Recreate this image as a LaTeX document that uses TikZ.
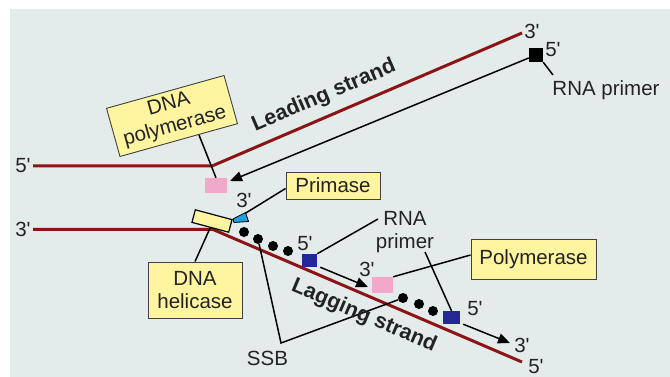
\documentclass[tikz,border=0pt]{standalone}
\usepackage{fontspec}
\setmainfont{Liberation Sans}
\usetikzlibrary{arrows.meta,calc}
\definecolor{bgc}{RGB}{227,236,234}
\definecolor{dred}{RGB}{140,20,22}
\definecolor{boxy}{RGB}{255,244,160}
\definecolor{pinkc}{RGB}{242,168,200}
\definecolor{navyc}{RGB}{35,40,150}
\definecolor{cyanc}{RGB}{30,160,225}
\definecolor{txt}{RGB}{35,35,35}
\newcommand{\pq}{\textquotesingle}
\begin{document}
\begin{tikzpicture}[x=1pt,y=-1pt,
  font=\fontsize{20.5}{22.5}\selectfont,
  strand/.style={dred, line width=3pt},
  conn/.style={black, line width=1.5pt},
  arr/.style={conn, -{Triangle[length=12pt,width=10pt]}},
  ybox/.style={draw=black!75, line width=0.9pt, fill=boxy, align=center, inner sep=0pt, text=txt},
  lbl/.style={inner sep=0pt, text=txt},
  boldlbl/.style={inner sep=0pt, text=txt, font=\fontsize{21.5}{23}\selectfont\bfseries},
  sqr/.style={inner sep=0pt},
  ssbdot/.style={circle, fill=black, inner sep=0pt, minimum size=10pt}]
\path[use as bounding box] (0,0) rectangle (670,377);
\fill[bgc] (10,9) rectangle (670,377);

% ---------- leading strand ----------
\coordinate (L5) at (33,166);
\coordinate (LF) at (212,166);
\coordinate (L3) at (522,33);
\draw[strand] (L5) -- (LF) -- (L3);
\node[lbl] (tL5) at (23,166) {5\pq};
\node[lbl] (tL3) at (532,31) {3\pq};

\node[sqr, fill=black, minimum size=14pt] (rnaA) at (536,55) {};
\coordinate (tipA) at (230,181);
\draw[arr] (rnaA) -- (tipA);
\node[lbl] (tA5) at (553,50) {5\pq};
\coordinate (rkA) at (553,75);
\draw[conn] (rnaA.south east) -- (rkA);
\node[lbl] (rnaAl) at (606,90) {RNA primer};

\node[ybox, rotate=15.6, minimum width=122pt, minimum height=50pt] (dnapol) at (172,116) {DNA\\polymerase};
\node[sqr, fill=pinkc, minimum width=22pt, minimum height=15pt] (pol1) at (216,185.5) {};
\draw[conn] ($(dnapol.south west)!0.67!(dnapol.south east)$) -- (pol1.north);

\node[boldlbl, rotate=23.2] (lead) at (324,96) {Leading strand};

% ---------- lagging strand ----------
\coordinate (R3) at (33,229.5);
\coordinate (RF) at (213,229.5);
\coordinate (R5) at (522,362);
\draw[strand] (R3) -- (RF) -- (R5);
\node[lbl] (tR3) at (23,229) {3\pq};
\node[lbl] (tR5) at (536,367) {5\pq};

\node[draw=black, line width=1.2pt, fill=boxy, rotate=-15, minimum width=38pt, minimum height=13pt, inner sep=0pt] (heli) at (212,221) {};
\filldraw[fill=cyanc, draw=black, line width=0.8pt] (233,219) -- (245.5,212.5) -- (248.5,221.5) -- (234,222.5) -- cycle;
\coordinate (primC) at (245,213.5);
\node[lbl] (tP3) at (244,200) {3\pq};

\node[ybox, minimum width=94pt, minimum height=27pt] (prim) at (333,185.5) {Primase};
\draw[conn] ([yshift=-3pt]prim.west) -- (primC);

\node[ybox, minimum width=94pt, minimum height=56pt] (hbox) at (195,290) {DNA\\helicase};
\draw[conn] (hbox.north) -- (heli.south);

% SSB dots
\node[ssbdot] (d1) at (244,232) {};
\node[ssbdot] (d2) at (258,239) {};
\node[ssbdot] (d3) at (273,246) {};
\node[ssbdot] (d4) at (288,251) {};
\node[ssbdot] (d5) at (403,298) {};
\node[ssbdot] (d6) at (419,304) {};
\node[ssbdot] (d7) at (433,311) {};
\node[lbl] (ssb) at (267.5,358.5) {SSB};
\coordinate (sk) at (281,343);
\draw[conn] (d2) -- (sk) -- (d5);

% Okazaki fragment 1
\node[sqr, fill=navyc, minimum width=15pt, minimum height=13pt] (bl1) at (309.5,260.5) {};
\node[lbl] (tB5) at (305,244) {5\pq};
\coordinate (tipB) at (368,287);
\draw[arr] ([xshift=3pt]bl1.south east) -- (tipB);
\node[sqr, fill=pinkc, minimum width=21pt, minimum height=16pt] (pol2) at (382.5,285) {};
\node[lbl] (tB3) at (367,269) {3\pq};

\node[ybox, minimum width=125pt, minimum height=40pt] (poly) at (533.5,259) {Polymerase};
\draw[conn] ([yshift=4pt]poly.west) -- (pol2.north east);

% Okazaki fragment 2
\node[sqr, fill=navyc, minimum width=17pt, minimum height=13pt] (bl2) at (451.5,317.5) {};
\node[lbl] (tC5) at (475,308.5) {5\pq};
\coordinate (tipC) at (510,343);
\draw[arr] ([xshift=3pt]bl2.south east) -- (tipC);
\node[lbl] (tC3) at (522,345) {3\pq};

\node[lbl, align=center] (rnaB) at (405,232) {RNA\\primer};
\coordinate (rk1) at (378,219);
\coordinate (rk2) at (425,252);
\draw[conn] (rk1) -- (bl1.north east);
\draw[conn] (rk2) -- (bl2.north);

\node[boldlbl, rotate=-23] (lag) at (364,316) {Lagging strand};
\end{tikzpicture}
\end{document}
